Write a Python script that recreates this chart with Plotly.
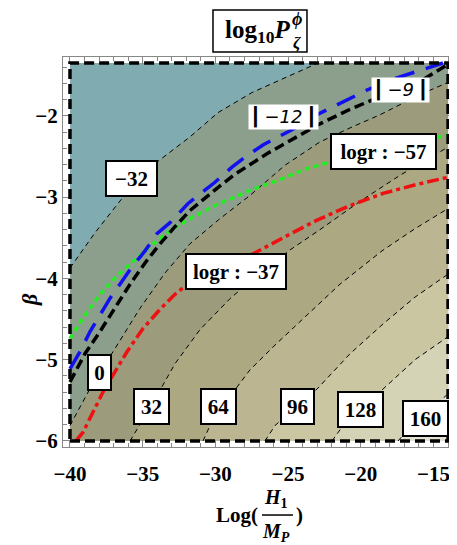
import plotly.graph_objects as go

# ---------------- data ----------------
X_MIN, X_MAX = -40.0, -14.0
B_MIN, B_MAX = -6.0, -1.35

levels = [-32, 0, 32, 64, 96, 128, 160]
band_colors = ["#80abb0", "#8c9f8d", "#9c9b7b", "#aca882", "#bbb691",
               "#c9c6a1", "#d5d3b6", "#e2e0d0"]

c_m32_x = [-40.0, -38.28, -36.42, -34.02, -31.75, -29.82, -27.48, -25.21, -22.94]
c_m32_b = [-3.872, -3.438, -3.016, -2.569, -2.259, -1.96, -1.713, -1.527, -1.35]

c_0_x = [-40.0, -38.07, -37.04, -35.19, -33.47, -31.75, -29.68, -27.62, -25.21, -22.81, -20.74, -18.68, -15.93, -14.0]
c_0_b = [-5.81, -5.175, -4.902, -4.369, -3.934, -3.574, -3.264, -2.979, -2.607, -2.321, -2.148, -1.987, -1.738, -1.589]

c_32_x = [-35.87, -34.43, -32.78, -31.06, -29.0, -26.94, -24.87, -22.81, -20.06, -17.30, -14.0]
c_32_b = [-6.0, -5.572, -5.05, -4.63, -4.25, -3.935, -3.65, -3.40, -3.053, -2.731, -2.384]

c_64_x = [-30.85, -30.37, -28.51, -27.62, -25.90, -24.18, -21.43, -18.54, -16.27, -14.0]
c_64_b = [-6.0, -5.81, -5.336, -5.125, -4.82, -4.53, -4.071, -3.661, -3.388, -3.14]

c_96_x = [-26.59, -25.90, -23.01, -20.74, -18.47, -16.27, -14.0]
c_96_b = [-6.0, -5.81, -5.361, -4.927, -4.56, -4.23, -3.947]

c_128_x = [-21.98, -21.22, -18.47, -16.27, -14.0]
c_128_b = [-6.0, -5.81, -5.361, -5.0, -4.716]

c_160_x = [-17.44, -16.62, -14.0]
c_160_b = [-6.0, -5.83, -5.42]

blue_x = [-40.0, -39.31, -38.62, -37.94, -37.25, -36.42, -35.74, -34.84, -34.02, -33.12, -31.88, -30.03, -28.86, -27.96, -26.73, -25.69, -24.73, -23.29, -21.91, -20.88, -19.50, -17.65, -15.79, -14.35]
blue_b = [-5.113, -4.902, -4.654, -4.443, -4.245, -4.034, -3.86, -3.661, -3.45, -3.314, -3.078, -2.817, -2.631, -2.507, -2.359, -2.259, -2.172, -2.01, -1.887, -1.80, -1.676, -1.54, -1.428, -1.35]

black_x = [-40.0, -38.97, -37.94, -36.91, -35.87, -34.84, -33.81, -32.78, -31.75, -29.89, -28.65, -26.38, -24.53, -22.81, -20.95, -18.68, -15.93, -14.0]
black_b = [-5.274, -4.927, -4.654, -4.356, -4.071, -3.81, -3.574, -3.364, -3.165, -2.892, -2.718, -2.458, -2.271, -2.098, -1.937, -1.763, -1.577, -1.366]

green_x = [-40.0, -39.17, -37.94, -36.77, -35.39, -34.02, -32.92, -31.75, -30.03, -27.62, -25.69, -23.63, -22.12, -20.06, -17.30, -14.0]
green_b = [-4.741, -4.505, -4.195, -3.971, -3.748, -3.537, -3.388, -3.264, -3.103, -2.917, -2.793, -2.644, -2.569, -2.483, -2.371, -2.234]

red_x = [-39.59, -39.11, -38.42, -37.73, -36.91, -36.08, -34.98, -33.81, -32.78, -31.75, -29.68, -27.41, -25.35, -23.08, -20.74, -18.47, -16.13, -14.0]
red_b = [-6.0, -5.895, -5.646, -5.398, -5.15, -4.902, -4.617, -4.381, -4.195, -4.046, -3.835, -3.698, -3.50, -3.289, -3.103, -2.954, -2.843, -2.756]

# contour labels
lab_text = ["−32", "0", "32", "64", "96", "128", "160", "logr : −37", "logr : −57"]
lab_x = [-35.80, -37.97, -34.39, -29.79, -24.35, -20.02, -15.55, -28.58, -18.44]
lab_b = [-2.768, -5.16, -5.572, -5.572, -5.572, -5.615, -5.72, -3.92, -2.44]
lab_w = [41, 13, 25, 25, 23, 35, 35, 90, 95]

ital_text = ["−12", "−9"]
ital_x = [-25.35, -17.30]
ital_b = [-2.01, -1.676]

x_ticks = [-40, -35, -30, -25, -20, -15]
y_ticks = [-6, -5, -4, -3, -2]

contours = [(c_m32_x, c_m32_b), (c_0_x, c_0_b), (c_32_x, c_32_b), (c_64_x, c_64_b),
            (c_96_x, c_96_b), (c_128_x, c_128_b), (c_160_x, c_160_b)]

fig = go.Figure()

# base region
fig.add_trace(go.Scatter(x=[X_MIN, X_MAX, X_MAX, X_MIN, X_MIN],
                         y=[B_MIN, B_MIN, B_MAX, B_MAX, B_MIN],
                         fill="toself", fillcolor=band_colors[0], mode="lines",
                         line=dict(width=0), hoverinfo="skip", showlegend=False))


def region(xs, bs):
    px, pb = list(xs), list(bs)
    if pb[-1] >= B_MAX - 1e-6:
        px.append(X_MAX); pb.append(B_MAX)
    px.append(X_MAX); pb.append(B_MIN)
    if px[0] <= X_MIN + 1e-6:
        px.append(X_MIN); pb.append(B_MIN)
    px.append(px[0]); pb.append(pb[0])
    return px, pb


for i, (cx, cb) in enumerate(contours):
    px, pb = region(cx, cb)
    fig.add_trace(go.Scatter(x=px, y=pb, fill="toself", fillcolor=band_colors[i + 1],
                             mode="lines", line=dict(width=0), hoverinfo="skip",
                             showlegend=False))

for cx, cb in contours:
    fig.add_trace(go.Scatter(x=cx, y=cb, mode="lines",
                             line=dict(color="black", width=1, dash="5px,4px"),
                             hoverinfo="skip", showlegend=False))

fig.add_trace(go.Scatter(x=green_x, y=green_b, mode="lines",
                         line=dict(color="#22ee22", width=3.5, dash="5px,4px"),
                         showlegend=False))
fig.add_trace(go.Scatter(x=red_x, y=red_b, mode="lines",
                         line=dict(color="#ee1111", width=3.5, dash="12px,4px,4px,4px"),
                         showlegend=False))
fig.add_trace(go.Scatter(x=blue_x, y=blue_b, mode="lines",
                         line=dict(color="#1111ee", width=3.5, dash="20px,12px"),
                         showlegend=False))
fig.add_trace(go.Scatter(x=black_x, y=black_b, mode="lines",
                         line=dict(color="black", width=3.5, dash="10px,5px"),
                         showlegend=False))

# dashed frame of the data region
fig.add_shape(type="rect", x0=X_MIN, x1=X_MAX, y0=B_MIN, y1=B_MAX, xref="x", yref="y",
              line=dict(color="black", width=3.5, dash="10px,5px"))

serif = "Liberation Serif"
for t, x, b, w in zip(lab_text, lab_x, lab_b, lab_w):
    fig.add_annotation(x=x, y=b, xref="x", yref="y", text="<b>%s</b>" % t, showarrow=False,
                       xanchor="center", yanchor="middle", width=w, height=25,
                       font=dict(family=serif, size=21, color="black"),
                       bgcolor="white", bordercolor="black", borderwidth=2, borderpad=4)
for t, x, b in zip(ital_text, ital_x, ital_b):
    fig.add_annotation(x=x, y=b, xref="x", yref="y",
                       text="┃\u2009<i>%s</i>\u2009┃" % t, showarrow=False,
                       xanchor="center", yanchor="middle",
                       font=dict(family="DejaVu Sans", size=18, color="black"),
                       bgcolor="white", borderpad=1)


def note(x, y, text, size, xanchor="center", angle=0):
    fig.add_annotation(xref="paper", yref="paper", x=x, y=y, text=text, showarrow=False,
                       xanchor=xanchor, yanchor="middle", textangle=angle,
                       font=dict(family=serif, size=size, color="black"))


# title box
fig.add_shape(type="rect", xref="paper", yref="paper", x0=0.3846, x1=0.6256, y0=1.0128, y1=1.1205,
              line=dict(color="black", width=1.5))
note(0.587, 1.066, "<b>log<sub>10</sub><i>P</i></b>", 25, xanchor="right")
note(0.6, 1.097, "<b><i>ϕ</i></b>", 18)
note(0.6, 1.036, "<b><i>ζ</i></b>", 17)

# x axis title
note(0.5054, -0.1744, "<b>Log(</b>", 21, xanchor="right")
note(0.5449, -0.1308, "<b><i>H</i><sub>1</sub></b>", 20)
note(0.5449, -0.2205, "<b><i>M</i><sub><i>P</i></sub></b>", 20)
fig.add_shape(type="line", xref="paper", yref="paper", x0=0.5103, x1=0.5897, y0=-0.1744, y1=-0.1744,
              line=dict(color="black", width=1.5))
note(0.5923, -0.1744, "<b>)</b>", 21, xanchor="left")
# y axis title
note(-0.0846, 0.377, "<b><i>β</i></b>", 22, angle=-90)

axis_common = dict(showgrid=False, zeroline=False, showline=True, linecolor="#888", linewidth=1,
                   mirror="allticks", ticks="inside", ticklen=7, tickwidth=1, tickcolor="#888",
                   automargin=False,
                   tickfont=dict(family=serif, size=21, color="black", weight="bold"))
fig.update_xaxes(range=[-40.48, -13.66], tickmode="array", tickvals=x_ticks,
                 ticktext=["−%d" % abs(v) for v in x_ticks], ticklabelstandoff=8,
                 minor=dict(dtick=1, tick0=-40, ticks="inside", ticklen=4, tickcolor="#888"),
                 **axis_common)
fig.update_yaxes(range=[-6.074, -1.276], tickmode="array", tickvals=y_ticks,
                 ticktext=["−%d" % abs(v) for v in y_ticks],
                 minor=dict(dtick=0.2, tick0=-6, ticks="inside", ticklen=4, tickcolor="#888"),
                 **axis_common)

# the page body adds an 8px margin; size the figure so the plot sits where the reference has it
fig.update_layout(width=449, height=537, margin=dict(l=55, r=4, t=49, b=98),
                  plot_bgcolor="white", paper_bgcolor="white", showlegend=False)

fig.write_html("out.html")
